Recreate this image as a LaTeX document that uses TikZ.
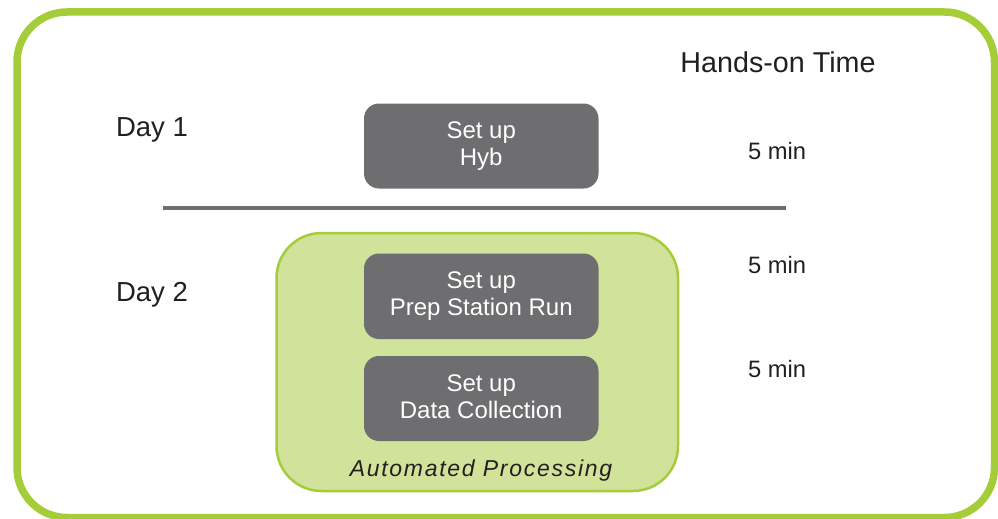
\documentclass[tikz,border=0pt]{standalone}
\usepackage{fontspec}
\setmainfont{Liberation Sans}
\newfontfamily\apfont[LetterSpace=7.5]{Liberation Sans}
\definecolor{lime}{HTML}{A5CD39}
\definecolor{limefill}{HTML}{D1E29B}
\definecolor{boxgray}{HTML}{6E6E70}
\definecolor{txt}{HTML}{231F20}
\tikzset{
  graybox/.style={fill=boxgray, draw=none, rounded corners=15pt},
  boxtext/.style={text=white, align=center, font=\fontsize{24}{27}\selectfont},
  lbl/.style={text=txt, font=\fontsize{27.5}{30}\selectfont},
  mins/.style={text=txt, font=\fontsize{23.7}{26}\selectfont},
}
\begin{document}
\begin{tikzpicture}[x=1pt,y=-1pt]
\useasboundingbox (0,0) rectangle (998,519);
% outer frame
\draw[lime, line width=7.5pt, rounded corners=50pt] (17,12) rectangle (994.5,517.5);
% automated processing box
\draw[lime, fill=limefill, line width=2.5pt, rounded corners=45pt] (276.5,233) rectangle (678,491);
% gray boxes
\fill[graybox] (364,103.5) rectangle (598.5,188.5);
\fill[graybox] (364,253.5) rectangle (598.5,339);
\fill[graybox] (364,356) rectangle (598.5,441);
\node[boxtext] (hyb) at (481.25,146) {Set up\\Hyb};
\node[boxtext] (prep) at (481.25,296.5) {Set up\\Prep Station Run};
\node[boxtext] (data) at (481.25,396.5) {Set up\\Data Collection};
% divider
\coordinate (l1) at (163,208);
\coordinate (l2) at (786,208);
\draw[boxgray, line width=4pt] (l1) -- (l2);
% labels
\node[text=txt, font=\fontsize{28.7}{31}\selectfont] (hot) at (778,62) {Hands-on Time};
\node[lbl] (d1) at (152,130) {Day 1};
\node[lbl] (d2) at (152,295) {Day 2};
\node[mins] (m1) at (777,151) {5 min};
\node[mins] (m2) at (777,265) {5 min};
\node[mins] (m3) at (777,369) {5 min};
\node[text=txt, font=\apfont\itshape\fontsize{23}{25}\selectfont] (ap) at (481,470.5) {Automated Processing};
\end{tikzpicture}
\end{document}
